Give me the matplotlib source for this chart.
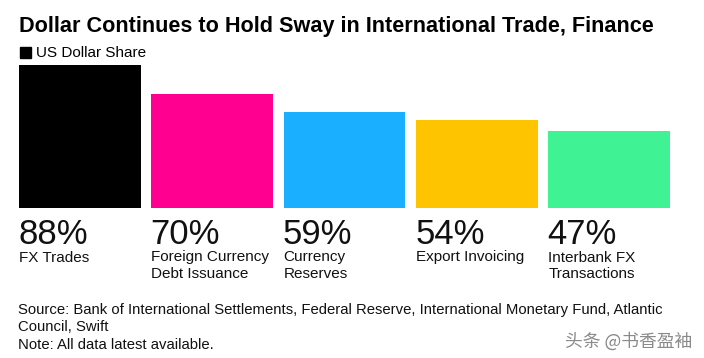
import matplotlib.pyplot as plt
from matplotlib import transforms

plt.rcParams["font.family"] = ["Liberation Sans", "DejaVu Sans"]

categories = ["FX Trades", "Foreign Currency\nDebt Issuance", "Currency\nReserves",
              "Export Invoicing", "Interbank FX\nTransactions"]
shares = [88, 70, 59, 54, 47]
colors = ["#000000", "#ff0090", "#1ab0ff", "#ffc400", "#3ff394"]

W, H = 704, 358
fig = plt.figure(figsize=(W / 100, H / 100), dpi=100)

# axes placed in pixels: bars from x=19 to 670, baseline at y=207.7, 88% top at y=65
bw = 0.92
ax = fig.add_axes([19 / W, (H - 207.7) / H, 651 / W, (207.7 - 65) / H])
x = list(range(len(shares)))
ax.bar(x, shares, width=bw, color=colors, align="center")
ax.set_xlim(-bw / 2, len(shares) - 1 + bw / 2)
ax.set_ylim(0, max(shares))
ax.axis("off")

tr = transforms.blended_transform_factory(ax.transData, fig.transFigure)
for i, (c, v) in enumerate(zip(categories, shares)):
    ax.text(i - bw / 2 - 0.005, (H - 243.5) / H, f"{v}%", transform=tr, fontsize=25,
            va="baseline", ha="left", color="#111111")
    for j, line in enumerate(c.split("\n")):
        ax.text(i - bw / 2, (H - 261.5 - j * 16.5) / H, line, transform=tr,
                fontsize=11, va="baseline", ha="left", color="#111111")

fig.text(19 / W, (H - 31.7) / H, "Dollar Continues to Hold Sway in International Trade, Finance",
         fontsize=15.6, fontweight="bold", va="baseline", ha="left")

# legend
fig.patches.append(plt.Rectangle((20 / W, (H - 57.5) / H), 11 / W, 10 / H,
                                 transform=fig.transFigure, color="black"))
fig.text(36 / W, (H - 57) / H, "US Dollar Share", fontsize=11, va="baseline", ha="left")

source = ["Source: Bank of International Settlements, Federal Reserve, International Monetary Fund, Atlantic",
          "Council, Swift",
          "Note: All data latest available."]
for j, line in enumerate(source):
    fig.text(18 / W, (H - 314 - j * 17.4) / H, line, fontsize=10.75, va="baseline",
             ha="left", color="#111111")

fig.text(565 / W, (H - 347) / H, "头条 @书香盈袖", fontsize=12.8, va="baseline", ha="left",
         color="#8a8a8a", family=["Noto Sans CJK SC", "DejaVu Sans"])

fig.savefig("out.png", dpi=100)
